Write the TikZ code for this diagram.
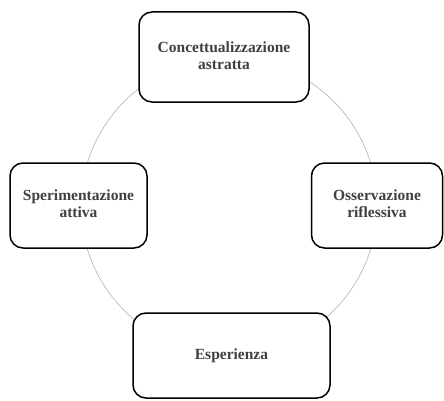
\documentclass[tikz,border=0pt]{standalone}
\usepackage{fontspec}
\setmainfont{Liberation Serif}
\definecolor{txtgray}{rgb}{0.25,0.25,0.25}
\newcommand{\twolines}[2]{\begin{tabular}{@{}c@{}}#1\\[-1pt]#2\end{tabular}}
\tikzset{
  stagebox/.style={draw=black, line width=1.5pt, rounded corners=13pt, fill=white,
    font=\bfseries\fontsize{15.5}{18}\selectfont, text=txtgray,
    inner sep=2pt},
  cycle/.style={draw=gray!70, line width=0.5pt}
}
\begin{document}
\begin{tikzpicture}[x=1pt,y=1pt]
\useasboundingbox (0,0) rectangle (444,400);
\coordinate (c) at (229,194);
\draw[cycle] (c) circle (148);
\node[stagebox, minimum width=170pt, minimum height=90pt] (conc) at (224,343) {\twolines{Concettualizzazione}{astratta}};
\node[stagebox, minimum width=137pt, minimum height=85pt] (sper) at (78.5,194.5) {\twolines{Sperimentazione}{attiva}};
\node[stagebox, minimum width=131pt, minimum height=85pt] (oss) at (377,194.5) {\twolines{Osservazione}{riflessiva}};
\node[stagebox, minimum width=197pt, minimum height=85pt] (esp) at (231.5,44.5) {Esperienza};
\end{tikzpicture}
\end{document}
